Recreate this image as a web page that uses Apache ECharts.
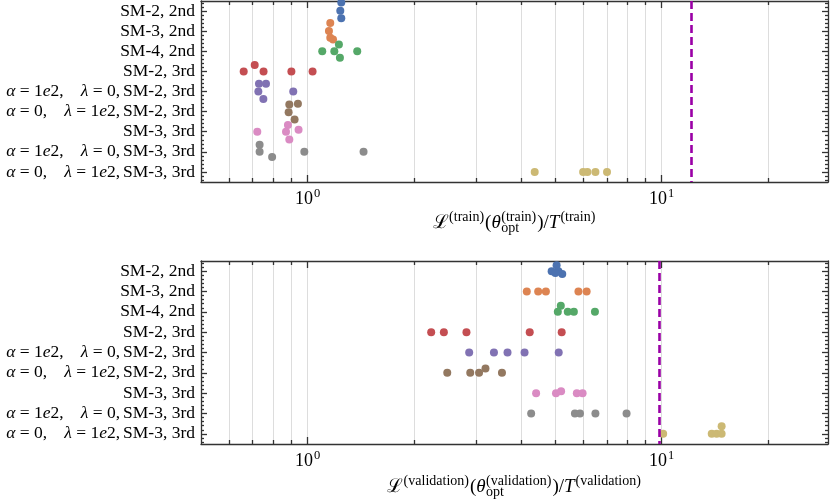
<!DOCTYPE html>
<html><head><meta charset="utf-8">
<script src="https://cdn.jsdelivr.net/npm/echarts@6/dist/echarts.min.js"></script>
<style>html,body{margin:0;padding:0;background:#fff}#c{width:830px;height:504px}</style>
</head><body><div id="c"></div>
<script>
// ---------------- data ----------------
const categories = [
  'SM-2, 2nd',
  'SM-3, 2nd',
  'SM-4, 2nd',
  'SM-2, 3rd',
  '{i|α} = 1{i|e}2,{g| }{i|λ} = 0,{h| }SM-2, 3rd',
  '{i|α} = 0,{g| }{i|λ} = 1{i|e}2,{h| }SM-2, 3rd',
  'SM-3, 3rd',
  '{i|α} = 1{i|e}2,{g| }{i|λ} = 0,{h| }SM-3, 3rd',
  '{i|α} = 0,{g| }{i|λ} = 1{i|e}2,{h| }SM-3, 3rd'
];
const colors = ['#4C72B0','#DD8452','#55A868','#C44E52','#8172B3','#937860','#DA8BC3','#8C8C8C','#CCB974'];

// training loss ratio per category (x) and vertical swarm offset (row units)
const trainValues = [
  [1.245, 1.237, 1.245],
  [1.159, 1.149, 1.159, 1.18],
  [1.10, 1.19, 1.226, 1.234, 1.381],
  [0.660, 0.709, 0.751, 0.900, 1.033],
  [0.729, 0.763, 0.726, 0.750, 0.911],
  [0.888, 0.939, 0.884, 0.919],
  [0.721, 0.880, 0.869, 0.943, 0.888],
  [0.732, 0.732, 0.794, 0.979, 1.439],
  [4.38, 6.00, 6.17, 6.50, 7.01]
];
const trainOffsets = [
  [-0.42, -0.02, 0.36],
  [-0.40, -0.01, 0.33, 0.42],
  [0, 0, -0.34, 0.32, 0],
  [0, -0.32, 0, 0, 0],
  [-0.38, -0.39, 0, 0.37, 0],
  [-0.35, -0.39, 0.03, 0.39],
  [0, -0.34, 0, -0.1, 0.39],
  [-0.35, 0, 0.26, 0, 0],
  [0, 0, 0, 0, 0]
];
const validationValues = [
  [4.89, 5.05, 5.11, 5.24, 5.01],
  [4.16, 4.48, 4.71, 5.82, 6.14],
  [5.19, 5.09, 5.43, 5.65, 6.48],
  [2.234, 2.426, 2.81, 4.24, 5.22],
  [2.86, 3.36, 3.67, 4.10, 5.12],
  [2.48, 2.88, 3.05, 3.18, 3.54],
  [4.42, 5.03, 5.20, 5.76, 5.98],
  [4.28, 5.69, 5.88, 6.50, 7.96],
  [10.1, 13.85, 14.3, 14.77, 14.77]
];
const validationOffsets = [
  [0, -0.29, 0, 0.14, 0.09],
  [0, 0, 0, 0, 0],
  [-0.3, 0, 0, 0, 0],
  [0, 0, 0, 0, 0],
  [0, 0, 0, 0, 0],
  [0, 0, 0, -0.21, 0],
  [0, 0, -0.1, 0, 0],
  [0, 0, 0, 0, 0],
  [0, 0, 0, 0, -0.37]
];
const trainThreshold = 12.1;
const validationThreshold = 9.83;

// axis ticks
const xRange = [0.5, 29.5];
const xMinorTicks = [0.6, 0.7, 0.8, 0.9, 2, 3, 4, 5, 6, 7, 8, 9, 20];
const xMajorTicks = [1, 10];
const xTickExponents = ['0', '1'];
const yMinorTicks = [];
for (let k = -2; k <= 42; k++) { if (k % 5 !== 0) yMinorTicks.push(k / 5); }
const yMajorTicks = categories.map((c, i) => i);

// ---------------- chart ----------------
const SERIF = "'Liberation Serif','DejaVu Serif',serif";
const AX = '#333';
const GRIDC = '#dddddd';
const LMIN = Math.log10(xRange[0]), LMAX = Math.log10(xRange[1]);
const LABEL_SIZE = 17.5;

const grids = [
  {left: 201, top: 1, width: 627, height: 181},
  {left: 201, top: 261, width: 627, height: 183}
];
const xAxes = [], yAxes = [], series = [];
const lineStyle = {color: AX, width: 1.3};

function addAxes(g) {
  xAxes.push({type: 'log', logBase: 10, gridIndex: g, min: xRange[0], max: xRange[1], show: false});
  const base = {type: 'value', gridIndex: g, min: LMIN, max: LMAX, axisLabel: {show: false}, splitLine: {show: false}, axisLine: {show: false, onZero: false, lineStyle}};
  xAxes.push(Object.assign({}, base, {position: 'bottom',
    axisLine: {show: true, onZero: false, lineStyle},
    axisTick: {show: true, inside: true, length: 4, customValues: xMinorTicks.map(Math.log10), lineStyle},
    splitLine: {show: true, lineStyle: {color: GRIDC, width: 1}}}));
  xAxes.push(Object.assign({}, base, {position: 'bottom',
    axisTick: {show: true, inside: true, length: 7, customValues: xMajorTicks.map(Math.log10), lineStyle},
    splitLine: {show: true, lineStyle: {color: GRIDC, width: 1}},
    axisLabel: {show: true, margin: 5, customValues: xMajorTicks.map(Math.log10),
      formatter: v => '{b|10}{s|' + xTickExponents[Math.round(v)] + '}',
      rich: {b: {fontFamily: SERIF, fontSize: 18, color: '#000'}, s: {fontFamily: SERIF, fontSize: 12.5, color: '#000', verticalAlign: 'top', padding: [0, 0, 11, 1]}}}}));
  xAxes.push(Object.assign({}, base, {position: 'top',
    axisLine: {show: true, onZero: false, lineStyle},
    axisTick: {show: true, inside: true, length: 4, customValues: xMinorTicks.map(Math.log10), lineStyle}}));
  xAxes.push(Object.assign({}, base, {position: 'top',
    axisTick: {show: true, inside: true, length: 7, customValues: xMajorTicks.map(Math.log10), lineStyle}}));

  const ybase = {type: 'value', gridIndex: g, inverse: true, min: -0.5, max: 8.5, splitLine: {show: false}, axisLabel: {show: false}, axisLine: {show: false, onZero: false, lineStyle}};
  yAxes.push(Object.assign({}, ybase, {position: 'left',
    axisLine: {show: true, onZero: false, lineStyle},
    axisTick: {show: true, inside: true, length: 6, customValues: yMajorTicks, lineStyle},
    axisLabel: {show: true, margin: 6, customValues: yMajorTicks, formatter: v => categories[Math.round(v)],
      fontFamily: SERIF, fontSize: LABEL_SIZE, color: '#000',
      rich: {
        i: {fontFamily: SERIF, fontStyle: 'italic', fontSize: LABEL_SIZE, color: '#000'},
        g: {fontFamily: SERIF, fontSize: LABEL_SIZE, width: 17},
        h: {fontFamily: SERIF, fontSize: LABEL_SIZE, width: 3}
      }}}));
  yAxes.push(Object.assign({}, ybase, {position: 'left',
    axisTick: {show: true, inside: true, length: 3, customValues: yMinorTicks, lineStyle}}));
  yAxes.push(Object.assign({}, ybase, {position: 'right',
    axisLine: {show: true, onZero: false, lineStyle},
    axisTick: {show: true, inside: true, length: 6, customValues: yMajorTicks, lineStyle}}));
  yAxes.push(Object.assign({}, ybase, {position: 'right',
    axisTick: {show: true, inside: true, length: 3, customValues: yMinorTicks, lineStyle}}));
}
addAxes(0); addAxes(1);

function addSeries(g, values, offsets, threshold) {
  values.forEach((vals, r) => {
    const s = {
      type: 'scatter', xAxisIndex: g * 5, yAxisIndex: g * 4,
      symbolSize: 8, itemStyle: {color: colors[r], opacity: 1},
      data: vals.map((v, j) => [v, r + offsets[r][j]]),
      z: 3
    };
    if (r === values.length - 1) {
      s.markLine = {symbol: 'none', silent: true, label: {show: false},
        lineStyle: {color: '#9a00a6', width: 2.6, type: [8, 4]},
        data: [{xAxis: threshold}], z: 5};
    }
    series.push(s);
  });
}
addSeries(0, trainValues, trainOffsets, trainThreshold);
addSeries(1, validationValues, validationOffsets, validationThreshold);

// axis titles (math) built as text pieces
function mathTitle(cx, baseline, parts) {
  const ctx = document.createElement('canvas').getContext('2d');
  const MAIN = 19, SCR = 14;
  const items = []; let x = 0;
  parts.forEach(p => {
    if (p.t !== undefined) {
      const f = (p.it ? 'italic ' : '') + MAIN + 'px ' + SERIF;
      ctx.font = f; const w = ctx.measureText(p.t).width;
      items.push({text: p.t, font: f, x: x, base: baseline, size: MAIN});
      x += w + (p.after || 0);
    } else {
      let w = 0;
      const f = SCR + 'px ' + SERIF;
      ctx.font = f;
      if (p.sup) { w = Math.max(w, ctx.measureText(p.sup).width); items.push({text: p.sup, font: f, x: x + 0.5, base: baseline - 7, size: SCR}); }
      if (p.sub) { w = Math.max(w, ctx.measureText(p.sub).width); items.push({text: p.sub, font: f, x: x + 0.5, base: baseline + 4, size: SCR}); }
      x += w + 1.5;
    }
  });
  const x0 = cx - x / 2;
  return items.map(it => ({type: 'text', x: x0 + it.x, y: it.base - 0.3 * it.size,
    style: {text: it.text, font: it.font, fill: '#000', align: 'left', verticalAlign: 'middle', textAlign: 'left', textVerticalAlign: 'middle'}}));
}
const cx = 201 + 627 / 2;
const graphics = [].concat(
  mathTitle(cx, 229, [{t: 'ℒ'}, {sup: '(train)'}, {t: '('}, {t: 'θ', it: true}, {sup: '(train)', sub: 'opt'}, {t: ')/'}, {t: 'T', it: true, after: 0.5}, {sup: '(train)'}]),
  mathTitle(cx, 493, [{t: 'ℒ'}, {sup: '(validation)'}, {t: '('}, {t: 'θ', it: true}, {sup: '(validation)', sub: 'opt'}, {t: ')/'}, {t: 'T', it: true, after: 0.5}, {sup: '(validation)'}])
);

const chart = echarts.init(document.getElementById('c'), null, {renderer: 'canvas'});
chart.setOption({
  animation: false,
  backgroundColor: '#fff',
  grid: grids,
  xAxis: xAxes,
  yAxis: yAxes,
  series: series,
  graphic: graphics
});
</script>
</body></html>
